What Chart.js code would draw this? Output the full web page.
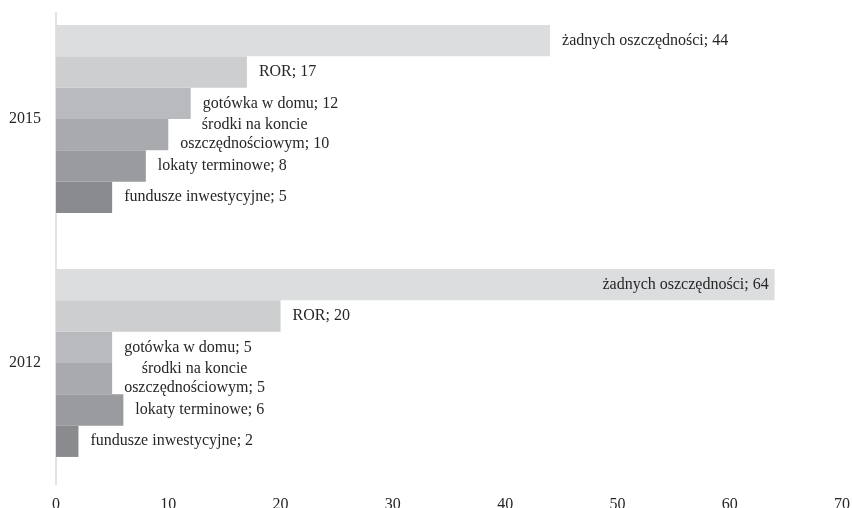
<!DOCTYPE html>
<html>
<head>
<meta charset="utf-8">
<script src="https://cdn.jsdelivr.net/npm/chart.js@4/dist/chart.umd.min.js"></script>
<style>
  html, body { margin: 0; padding: 0; background: #fff; overflow: hidden; }
  #wrap { position: absolute; left: 0; top: -20px; width: 852px; height: 540px; }
</style>
</head>
<body>
<div id="wrap"><canvas id="chart" width="852" height="540"></canvas></div>
<script>
// DATA
const years = ['2015', '2012'];
const seriesNames = [
  'żadnych oszczędności',
  'ROR',
  'gotówka w domu',
  'środki na koncie\noszczędnościowym',
  'lokaty terminowe',
  'fundusze inwestycyjne',
];
const noSavings = [44, 64];
const ror = [17, 20];
const cashAtHome = [12, 5];
const savingsAccount = [10, 5];
const termDeposits = [8, 6];
const investFunds = [5, 2];
const xTicks = [0, 10, 20, 30, 40, 50, 60, 70];

const seriesValues = [noSavings, ror, cashAtHome, savingsAccount, termDeposits, investFunds];
const barColors = ['#dcdddf', '#cdced0', '#b9babd', '#a9aaad', '#9a9b9e', '#8a8b8e'];

const FONT = 'Liberation Serif, Times New Roman, serif';

// labels next to bar ends (inside the bar when there is no room)
const barLabels = {
  id: 'barLabels',
  afterDatasetsDraw(chart) {
    const ctx = chart.ctx;
    const area = chart.chartArea;
    ctx.save();
    ctx.font = '16px ' + FONT;
    ctx.fillStyle = '#262626';
    ctx.textBaseline = 'middle';
    chart.data.datasets.forEach((ds, di) => {
      const meta = chart.getDatasetMeta(di);
      meta.data.forEach((bar, i) => {
        const lines = (ds.label + '; ' + ds.data[i]).split('\n');
        const w = Math.max(...lines.map(l => ctx.measureText(l).width));
        const lh = 19;
        const y0 = bar.y - (lines.length - 1) * lh / 2;
        let left = bar.x + 12;
        if (left + w > area.right) left = bar.x - 6 - w; // inside
        lines.forEach((l, k) => {
          ctx.textAlign = 'center';
          ctx.fillText(l, left + w / 2, y0 + k * lh);
        });
      });
    });
    ctx.restore();
  },
};

// left axis line (starts a bit below the chart top, like the original)
const axisLine = {
  id: 'axisLine',
  beforeDatasetsDraw(chart) {
    const ctx = chart.ctx;
    const x = chart.scales.x.getPixelForValue(0);
    ctx.save();
    ctx.strokeStyle = '#d9d9d9';
    ctx.lineWidth = 1.5;
    ctx.beginPath();
    ctx.moveTo(x, chart.chartArea.top + 15);
    ctx.lineTo(x, chart.chartArea.bottom);
    ctx.stroke();
    ctx.restore();
  },
};

new Chart(document.getElementById('chart'), {
  type: 'bar',
  data: {
    labels: years,
    datasets: seriesNames.map((name, i) => ({
      label: name,
      data: seriesValues[i],
      backgroundColor: barColors[i],
      borderWidth: 0,
      barPercentage: 1,
      categoryPercentage: 0.77,
    })),
  },
  options: {
    indexAxis: 'y',
    responsive: false,
    animation: false,
    layout: { padding: { top: 17, right: 10, left: 0, bottom: 0 } },
    scales: {
      x: {
        min: 0,
        max: 70,
        border: { display: false },
        grid: { display: false, drawTicks: false },
        afterBuildTicks: scale => {
          scale.ticks = xTicks.map(v => ({ value: v }));
        },
        afterFit: scale => {
          scale.height = 35;
          scale.paddingLeft = 0;
          scale.paddingRight = 0;
        },
        ticks: {
          color: '#262626',
          padding: 10,
          font: { family: FONT, size: 16 },
        },
      },
      y: {
        border: { display: false },
        grid: { display: false, drawTicks: false },
        afterFit: scale => {
          scale.width = 56;
          scale.paddingTop = 0;
          scale.paddingBottom = 0;
        },
        ticks: {
          color: '#262626',
          padding: 15,
          font: { family: FONT, size: 16 },
        },
      },
    },
    plugins: {
      legend: { display: false },
      tooltip: { enabled: false },
    },
  },
  plugins: [axisLine, barLabels],
});
</script>
</body>
</html>
